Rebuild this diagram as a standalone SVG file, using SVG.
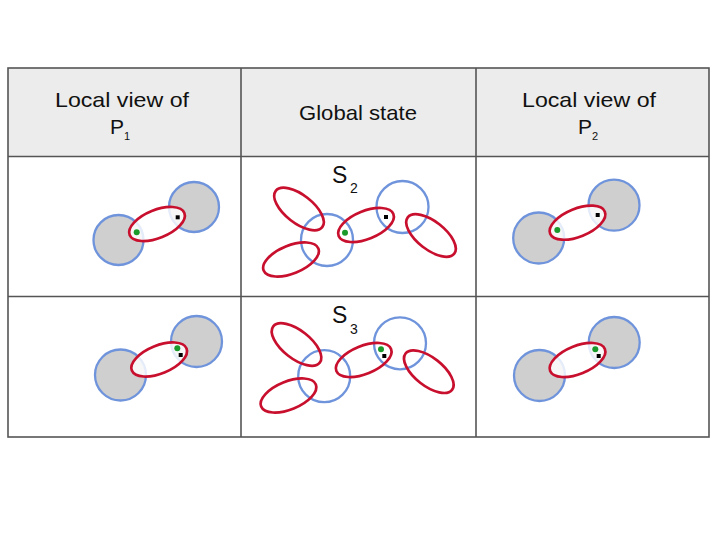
<svg xmlns="http://www.w3.org/2000/svg" width="720" height="540" viewBox="0 0 720 540">
<style>
.hdr{font-family:"Liberation Sans",Arial,sans-serif;font-size:21px;fill:#111;text-anchor:middle}
.lbl{font-family:"Liberation Sans",Arial,sans-serif;fill:#111}
.grid{stroke:#555;stroke-width:1.6;fill:none}
.cg{fill:#cfcfcf;stroke:#6f94dc;stroke-width:2.3}
.cw{fill:none;stroke:#6f94dc;stroke-width:2.3}
.el{fill:#ffffff;fill-opacity:0.82;stroke:#c8102e;stroke-width:2.7}
.eo{fill:none;stroke:#c8102e;stroke-width:2.7}
.gd{fill:#1a9a2a}
.bk{fill:#000}
</style>
<rect width="720" height="540" fill="#ffffff"/>
<g id="table">
<rect x="8" y="68" width="701" height="88.5" fill="#ececec"/>
<rect class="grid" x="8" y="68" width="701" height="369"/>
<line class="grid" x1="8" y1="156.5" x2="709" y2="156.5"/>
<line class="grid" x1="8" y1="296.5" x2="709" y2="296.5"/>
<line class="grid" x1="241" y1="68" x2="241" y2="437" stroke="#333"/>
<line class="grid" x1="476" y1="68" x2="476" y2="437" stroke="#333"/>
</g>
<g id="headers">
<text class="hdr" x="122" y="107" textLength="134" lengthAdjust="spacingAndGlyphs">Local view of</text>
<text class="hdr" x="120" y="134">P<tspan font-size="11" dy="6">1</tspan></text>
<text class="hdr" x="358" y="120" textLength="118" lengthAdjust="spacingAndGlyphs">Global state</text>
<text class="hdr" x="589" y="107" textLength="134" lengthAdjust="spacingAndGlyphs">Local view of</text>
<text class="hdr" x="588" y="134">P<tspan font-size="11" dy="6">2</tspan></text>
</g>
<g id="p1-row1">
<circle class="cg" cx="118.5" cy="240" r="25"/>
<circle class="cg" cx="194" cy="207" r="25"/>
<ellipse class="el" cx="157" cy="224" rx="29.5" ry="14" transform="rotate(-22 157 224)"/>
<circle class="gd" cx="136.7" cy="232.3" r="3"/>
<rect class="bk" x="175.7" y="215.3" width="4" height="4"/>
</g>
<g id="global-row1">
<text class="lbl" x="332" y="183" font-size="23">S</text>
<text class="lbl" x="350" y="193" font-size="14">2</text>
<circle class="cw" cx="327" cy="240" r="26"/>
<circle class="cw" cx="402.5" cy="207" r="26"/>
<ellipse class="eo" cx="299" cy="209" rx="29.5" ry="14" transform="rotate(38 299 209)"/>
<ellipse class="eo" cx="291" cy="259.5" rx="29.5" ry="14" transform="rotate(-22 291 259.5)"/>
<ellipse class="eo" cx="366" cy="225" rx="29.5" ry="14" transform="rotate(-22 366 225)"/>
<ellipse class="eo" cx="431" cy="235.5" rx="29.5" ry="14" transform="rotate(38 431 235.5)"/>
<circle class="gd" cx="345" cy="232.7" r="3"/>
<rect class="bk" x="384" y="215" width="4" height="4"/>
</g>
<g id="p2-row1">
<circle class="cg" cx="538.7" cy="238" r="25.5"/>
<circle class="cg" cx="614" cy="205.2" r="25.5"/>
<ellipse class="el" cx="577.5" cy="222.7" rx="29.5" ry="14" transform="rotate(-22 577.5 222.7)"/>
<circle class="gd" cx="557.3" cy="230" r="3"/>
<rect class="bk" x="595.7" y="213" width="4" height="4"/>
</g>
<g id="p1-row2">
<circle class="cg" cx="120.5" cy="375" r="25.5"/>
<circle class="cg" cx="196.5" cy="341.5" r="25.5"/>
<ellipse class="el" cx="159.2" cy="359.5" rx="29.5" ry="14" transform="rotate(-22 159.2 359.5)"/>
<circle class="gd" cx="177.3" cy="348.3" r="3"/>
<rect class="bk" x="178.7" y="353" width="4" height="4"/>
</g>
<g id="global-row2">
<text class="lbl" x="332" y="323" font-size="23">S</text>
<text class="lbl" x="350" y="334" font-size="14">3</text>
<circle class="cw" cx="324.2" cy="376.2" r="26"/>
<circle class="cw" cx="400" cy="343.3" r="26"/>
<ellipse class="eo" cx="296.5" cy="344.5" rx="29.5" ry="14" transform="rotate(38 296.5 344.5)"/>
<ellipse class="eo" cx="288.5" cy="395.5" rx="29.5" ry="14" transform="rotate(-22 288.5 395.5)"/>
<ellipse class="eo" cx="363.7" cy="360" rx="29.5" ry="14" transform="rotate(-22 363.7 360)"/>
<ellipse class="eo" cx="428.8" cy="371.7" rx="29.5" ry="14" transform="rotate(38 428.8 371.7)"/>
<circle class="gd" cx="381" cy="349.3" r="3"/>
<rect class="bk" x="382.3" y="354" width="4" height="4"/>
</g>
<g id="p2-row2">
<circle class="cg" cx="539.5" cy="375.5" r="25.5"/>
<circle class="cg" cx="614.2" cy="342.5" r="25.5"/>
<ellipse class="el" cx="577.5" cy="360" rx="29.5" ry="14" transform="rotate(-22 577.5 360)"/>
<circle class="gd" cx="595.3" cy="349.3" r="3"/>
<rect class="bk" x="596.7" y="354" width="4" height="4"/>
</g>
</svg>
